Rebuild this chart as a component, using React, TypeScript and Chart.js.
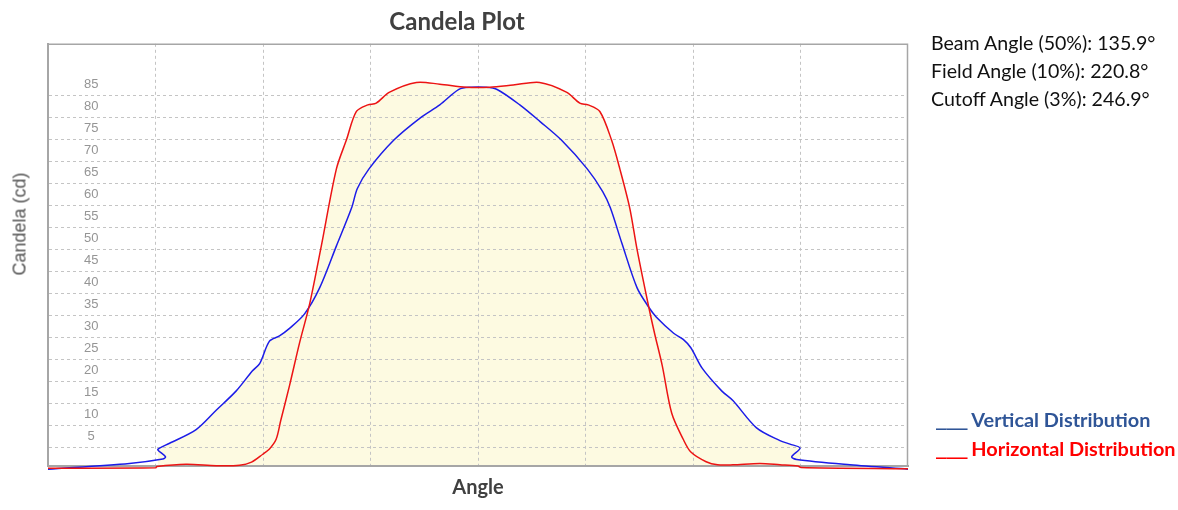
import React, { useEffect, useRef } from 'react';
import { Chart, registerables } from 'chart.js';

Chart.register(...registerables);

// Angle (degrees) and candela values
const vertAngles = [-180, -145.9, -131.95, -130.8, -134.05, -133.3, -129.1, -118.0, -109.6, -101.2, -94.5, -91.4, -87.3, -83.1, -78.9, -72.6, -66.3, -59.3, -52.9, -50.5, -45.7, -35.2, -24.0, -16.0, -8.0, -3.2, 3.2, 8.0, 17.5, 26.0, 34.9, 45.8, 52.2, 55.4, 60.2, 66.6, 71.5, 74.6, 81.9, 85.9, 89.1, 93.9, 102.0, 106.7, 116.6, 126.4, 130.6, 134.8, 131.3, 133.4, 155.7, 180];
const vertCandela = [-2.5, -1.2, -0.2, 0.3, 1.9, 2.3, 3.4, 6.5, 10.9, 15.3, 19.8, 21.5, 26.6, 27.8, 29.5, 32.8, 38.7, 48.2, 56.9, 61.3, 65.7, 72.3, 77.4, 80.3, 83.8, 84.3, 84.3, 83.8, 80.3, 76.5, 72.3, 65.7, 60.6, 56.9, 48.9, 38.7, 34.3, 32.1, 28.4, 27.0, 25.1, 20.4, 15.3, 13.1, 6.9, 4.0, 3.2, 2.3, 0.3, -0.3, -1.5, -2.5];

const horizAngles = [-180, -135.0, -134.4, -122.2, -109.6, -99.8, -94.8, -90.1, -87.3, -84.5, -82.6, -78.9, -74.7, -70.5, -65.6, -59.3, -55.1, -50.9, -46.1, -42.6, -37.0, -25.8, -16.0, -4.9, 4.9, 14.7, 25.8, 37.0, 42.6, 46.1, 51.0, 55.9, 59.4, 63.5, 66.6, 71.5, 73.9, 77.1, 81.1, 85.9, 89.1, 95.5, 100.3, 106.7, 118.0, 126.4, 133.9, 135.2, 180];
const horizCandela = [-2.3, -2.2, -1.9, -1.4, -1.7, -1.6, -0.9, 0.9, 2.1, 4.3, 8.5, 16.5, 26.2, 35, 48.2, 65.7, 72.3, 78.8, 80.3, 80.7, 83.2, 85.4, 85.0, 84.3, 84.3, 84.8, 85.4, 83.2, 80.7, 80.3, 78.8, 72.3, 65.7, 56.9, 47.4, 34.3, 28.4, 21.1, 10.2, 4.3, 1.4, -0.8, -1.5, -1.5, -1.2, -1.5, -1.8, -2.1, -2.4];

const xGridAngles = [-180, -135, -90, -45, 0, 45, 90, 135, 180];
const yTickLabels = [5, 10, 15, 20, 25, 30, 35, 40, 45, 50, 55, 60, 65, 70, 75, 80, 85];
const yGridValues = [2.5, 7.5, 12.5, 17.5, 22.5, 27.5, 32.5, 37.5, 42.5, 47.5, 52.5, 57.5, 62.5, 67.5, 72.5, 77.5, 82.5];

const seriesNames = ['Vertical Distribution', 'Horizontal Distribution'];
const angleNotes = ['Beam Angle (50%): 135.9°', 'Field Angle (10%): 220.8°', 'Cutoff Angle (3%): 246.9°'];

const BLUE = 'rgb(28,28,232)';
const RED = 'rgb(236,20,20)';
const FILL = '#FDFAE1';
const GRID = '#c4c4c4';
const FRAME = '#a6a6a6';
const CAL = 'Lato, "Open Sans", sans-serif';

const toPoints = (xs: number[], ys: number[]) => xs.map((x, i) => ({ x, y: ys[i] }));

const framePlugin = {
  id: 'frame',
  beforeDatasetsDraw(chart: any) {
    const { ctx, chartArea: a } = chart;
    ctx.save();
    ctx.strokeStyle = FRAME;
    ctx.lineWidth = 1.5;
    ctx.beginPath();
    ctx.moveTo(a.left, a.top + 0.5);
    ctx.lineTo(a.right - 0.5, a.top + 0.5);
    ctx.lineTo(a.right - 0.5, a.bottom);
    ctx.stroke();
    ctx.restore();
  },
};

const markStyle: React.CSSProperties = {
  display: 'inline-block',
  letterSpacing: '-1.5px',
  transform: 'scaleX(1.35)',
  transformOrigin: 'left center',
  marginRight: 13,
};

export default function App() {
  const ref = useRef<HTMLCanvasElement | null>(null);

  useEffect(() => {
    if (!ref.current) return;
    const vPts = toPoints(vertAngles, vertCandela);
    const hPts = toPoints(horizAngles, horizCandela);
    const chart = new Chart(ref.current, {
      type: 'line',
      data: {
        datasets: [
          {
            label: seriesNames[1],
            data: hPts,
            borderColor: RED,
            borderWidth: 1.5,
            pointRadius: 0,
            tension: 0.3,
            fill: false,
            order: 0,
            clip: 6,
          },
          {
            label: seriesNames[0],
            data: vPts,
            borderColor: BLUE,
            borderWidth: 1.5,
            pointRadius: 0,
            tension: 0.3,
            fill: false,
            order: 1,
            clip: 6,
          },
          {
            label: 'fill-v',
            data: vPts.slice(4, 48),
            borderWidth: 0,
            borderColor: 'rgba(0,0,0,0)',
            backgroundColor: FILL,
            pointRadius: 0,
            tension: 0.3,
            fill: 'start',
            order: 2,
          },
          {
            label: 'fill-h',
            data: hPts.slice(2, 48),
            borderWidth: 0,
            borderColor: 'rgba(0,0,0,0)',
            backgroundColor: FILL,
            pointRadius: 0,
            tension: 0.3,
            fill: 'start',
            order: 3,
          },
        ],
      } as any,
      options: {
        responsive: false,
        animation: false,
        events: [],
        layout: { padding: { left: 6, right: 270, top: 0, bottom: 0 } },
        plugins: {
          legend: { display: false },
          tooltip: { enabled: false },
          filler: { drawTime: 'beforeDraw' },
          title: {
            display: true,
            text: 'Candela Plot',
            color: '#404040',
            font: { family: CAL, size: 24, weight: 'bold', lineHeight: 1.2 },
            padding: { top: 4, bottom: 7.2 },
          },
        } as any,
        scales: {
          x: {
            type: 'linear',
            min: -180,
            max: 180,
            afterBuildTicks: (s: any) => {
              s.ticks = xGridAngles.map((v) => ({ value: v }));
            },
            afterFit: (s: any) => {
              s.height = 32;
            },
            ticks: { display: false, autoSkip: false },
            grid: {
              drawTicks: false,
              color: (c: any) => (Math.abs(c.tick.value) >= 180 ? 'rgba(0,0,0,0)' : GRID),
              lineWidth: 1,
            },
            border: { display: true, color: FRAME, width: 2, dash: [3, 3] },
            title: {
              display: true,
              text: 'Angle',
              color: '#404040',
              font: { family: CAL, size: 20, weight: 'bold', lineHeight: 1.2 },
              padding: { top: 0, bottom: -1 },
            },
          },
          y: {
            type: 'linear',
            min: -1.82,
            max: 94.18,
            afterBuildTicks: (s: any) => {
              const vals = [...yGridValues, ...yTickLabels].sort((a, b) => a - b);
              s.ticks = vals.map((v) => ({ value: v }));
            },
            afterFit: (s: any) => {
              s.width = 42;
            },
            ticks: {
              autoSkip: false,
              mirror: true,
              crossAlign: 'center',
              padding: 36,
              color: '#959595',
              font: { family: '"Liberation Sans", Arial, sans-serif', size: 13 },
              callback: (v: any) => (yTickLabels.includes(Number(v)) ? String(v) : ''),
            },
            grid: {
              drawTicks: false,
              color: (c: any) => (yGridValues.includes(c.tick.value) ? GRID : 'rgba(0,0,0,0)'),
              lineWidth: 1,
            },
            border: { display: true, color: FRAME, width: 2, dash: [3, 3] },
          },
        } as any,
      },
      plugins: [framePlugin],
    });
    return () => chart.destroy();
  }, []);

  return (
    <div style={{ position: 'fixed', left: 0, top: 0, width: 1178, height: 510, background: '#fff', overflow: 'hidden' }}>
      <canvas ref={ref} width={1178} height={510} style={{ position: 'absolute', left: 0, top: 0, display: 'block' }} />
      <div
        style={{
          position: 'absolute',
          left: 19.5,
          top: 224,
          transform: 'translate(-50%, -50%) rotate(-90deg)',
          whiteSpace: 'nowrap',
          font: '18px "Liberation Sans", Arial, sans-serif',
          color: '#555555',
        }}
      >
        Candela (cd)
      </div>
      <div
        style={{
          position: 'absolute',
          left: 931,
          top: 29.3,
          font: `19.6px ${CAL}`,
          lineHeight: '28px',
          color: '#111',
          whiteSpace: 'nowrap',
        }}
      >
        {angleNotes.map((t) => (
          <div key={t}>{t}</div>
        ))}
      </div>
      <div
        style={{
          position: 'absolute',
          left: 935,
          top: 405.2,
          font: `bold 19.9px ${CAL}`,
          lineHeight: '28.5px',
          whiteSpace: 'nowrap',
        }}
      >
        <div style={{ color: '#2F5597' }}>
          <span style={markStyle}>___</span>
          {seriesNames[0]}
        </div>
        <div style={{ color: '#FF0000' }}>
          <span style={markStyle}>___</span>
          {seriesNames[1]}
        </div>
      </div>
    </div>
  );
}
